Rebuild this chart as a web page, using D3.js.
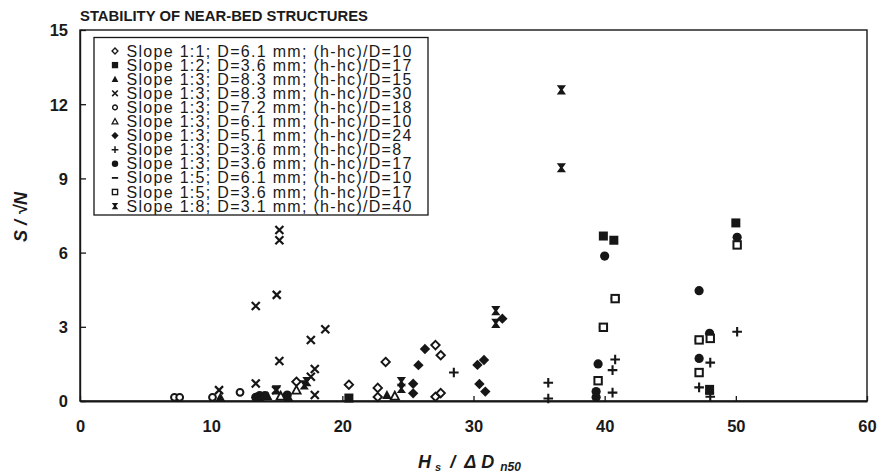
<!DOCTYPE html>
<html><head><meta charset="utf-8">
<script src="https://cdn.jsdelivr.net/npm/d3@7"></script>
<style>
body{margin:0;background:#fff;}
svg{display:block;}
text{font-family:"Liberation Sans",Arial,sans-serif;fill:#1a1a1a;}
</style></head>
<body>
<svg id="chart" width="885" height="475"></svg>
<script>
const title = "STABILITY OF NEAR-BED STRUCTURES";
const xTicks = [0,10,20,30,40,50,60];
const yTicks = [0,3,6,9,12,15];
const seriesLabels = [
 "Slope 1:1; D=6.1 mm; (h-hc)/D=10",
 "Slope 1:2; D=3.6 mm; (h-hc)/D=17",
 "Slope 1:3; D=8.3 mm; (h-hc)/D=15",
 "Slope 1:3; D=8.3 mm; (h-hc)/D=30",
 "Slope 1:3; D=7.2 mm; (h-hc)/D=18",
 "Slope 1:3; D=6.1 mm; (h-hc)/D=10",
 "Slope 1:3; D=5.1 mm; (h-hc)/D=24",
 "Slope 1:3; D=3.6 mm; (h-hc)/D=8",
 "Slope 1:3; D=3.6 mm; (h-hc)/D=17",
 "Slope 1:5; D=6.1 mm; (h-hc)/D=10",
 "Slope 1:5; D=3.6 mm; (h-hc)/D=17",
 "Slope 1:8; D=3.1 mm; (h-hc)/D=40"
];
const seriesSymbols = ["diamondOpen","squareFilled","triangleFilled","cross","circleOpen","triangleOpen","diamondFilled","plus","circleFilled","dash","squareOpen","bowtie"];

const s1x = [16.5, 20.5, 22.7, 23.3, 27.1, 27.5, 27.1, 27.5, 22.7];
const s1y = [0.78, 0.66, 0.53, 1.58, 2.26, 1.85, 0.17, 0.32, 0.16];
const s2x = [39.9, 40.7, 50.0, 48.0, 20.5];
const s2y = [6.67, 6.5, 7.2, 0.47, 0.12];
const s3x = [23.4, 13.7, 14.3, 15.9, 10.7];
const s3y = [0.24, 0.15, 0.2, 0.15, 0.15];
const s4x = [13.4, 15.2, 15.2, 15.0, 15.2, 17.6, 18.7, 17.9, 17.6, 17.9, 14.95, 13.4, 10.6];
const s4y = [3.84, 6.91, 6.5, 4.29, 1.62, 2.47, 2.9, 1.29, 0.98, 0.24, 0.44, 0.71, 0.44];
const s5x = [7.2, 7.6, 10.1, 12.2];
const s5y = [0.15, 0.15, 0.15, 0.35];
const s6x = [16.5, 15.3, 24.0];
const s6y = [0.44, 0.2, 0.2];
const s7x = [26.3, 25.8, 25.4, 25.4, 30.3, 30.8, 30.45, 30.9, 32.2];
const s7y = [2.1, 1.45, 0.7, 0.31, 1.46, 1.66, 0.69, 0.38, 3.33];
const s8x = [28.5, 35.7, 35.7, 40.8, 40.6, 40.6, 50.1, 48.05, 47.2, 48.05];
const s8y = [1.15, 0.74, 0.1, 1.68, 1.25, 0.34, 2.8, 1.55, 0.55, 0.17];
const s9x = [40.0, 39.5, 39.35, 39.35, 47.2, 47.2, 48.0, 50.1, 13.7, 14.1, 15.8, 13.4];
const s9y = [5.86, 1.5, 0.38, 0.15, 4.46, 1.72, 2.74, 6.62, 0.22, 0.22, 0.24, 0.15];
const s10x = [40.8, 39.9, 47.2, 48.0];
const s10y = [4.14, 2.98, 2.47, 0.3];
const s11x = [39.5, 50.1, 47.2, 48.05, 47.2, 40.8, 39.9];
const s11y = [0.82, 6.31, 2.47, 2.53, 1.15, 4.14, 2.98];
const s12x = [36.7, 36.7, 31.7, 31.7, 24.5, 24.5, 17.3, 17.1, 15.0];
const s12y = [12.58, 9.43, 3.65, 3.14, 0.78, 0.51, 0.78, 0.65, 0.45];

const seriesX = [s1x,s2x,s3x,s4x,s5x,s6x,s7x,s8x,s9x,s10x,s11x,s12x];
const seriesY = [s1y,s2y,s3y,s4y,s5y,s6y,s7y,s8y,s9y,s10y,s11y,s12y];

const svg = d3.select("#chart");
const L = 80, R = 867, T = 30, B = 401;
const x = d3.scaleLinear().domain([0,60]).range([L,R]);
const y = d3.scaleLinear().domain([0,15]).range([B,T]);
const ink = "#161616";

// title
svg.append("text").attr("x",80).attr("y",21).attr("font-size",15).attr("font-weight","bold")
  .attr("textLength",288).attr("lengthAdjust","spacingAndGlyphs").text(title);

// frame
svg.append("rect").attr("x",L).attr("y",T).attr("width",R-L).attr("height",B-T)
  .attr("fill","none").attr("stroke",ink).attr("stroke-width",1.4);

// axes
const xa = svg.append("g").attr("transform",`translate(0,${B})`)
  .call(d3.axisBottom(x).tickValues(xTicks).tickSizeInner(-5).tickSizeOuter(0).tickPadding(19));
const ya = svg.append("g").attr("transform",`translate(${L},0)`)
  .call(d3.axisLeft(y).tickValues(yTicks).tickSizeInner(-6).tickSizeOuter(0).tickPadding(12));
[xa,ya].forEach(a=>{
  a.selectAll("path.domain").attr("stroke",ink).attr("stroke-width",a===xa?2.2:1.4);
  a.selectAll("line").attr("stroke",ink).attr("stroke-width",1.3);
  a.selectAll("text").attr("font-size",16.5).attr("font-weight","bold").attr("fill","#222").attr("font-family","Liberation Sans, Arial, sans-serif");
});
ya.selectAll("text").attr("dy","0.36em");

// axis titles
const xt = svg.append("text").attr("x",418).attr("y",468).attr("font-size",18)
  .attr("font-weight","bold").attr("font-style","italic");
xt.append("tspan").text("H");
xt.append("tspan").attr("font-size",11).attr("dx",4).attr("dy",3).text("s");
xt.append("tspan").attr("dy",-3).attr("dx",9).text("/");
xt.append("tspan").attr("dx",9).text("Δ");
xt.append("tspan").attr("dx",5).text("D");
xt.append("tspan").attr("font-size",12).attr("dx",6).attr("dy",3).text("n50");

svg.append("text").attr("transform","translate(27,217) rotate(-90)").attr("text-anchor","middle")
  .attr("font-size",18).attr("font-weight","bold").attr("font-style","italic").text("S / √N");

// symbol drawer
function drawSym(g, type, k){
  k = k||1;
  const sw = 2*k;
  switch(type){
    case "diamondOpen":
      g.append("path").attr("d",`M0,${-4.2*k}L${4.2*k},0L0,${4.2*k}L${-4.2*k},0Z`).attr("fill","#fff").attr("stroke",ink).attr("stroke-width",1.9*k); break;
    case "diamondFilled":
      g.append("path").attr("d",`M0,${-5.2*k}L${5.2*k},0L0,${5.2*k}L${-5.2*k},0Z`).attr("fill",ink); break;
    case "squareFilled":
      g.append("rect").attr("x",-4.5*k).attr("y",-4.5*k).attr("width",9*k).attr("height",9*k).attr("fill",ink); break;
    case "squareOpen":
      g.append("rect").attr("x",-3.7*k).attr("y",-3.7*k).attr("width",7.4*k).attr("height",7.4*k).attr("fill","#fff").attr("stroke",ink).attr("stroke-width",sw); break;
    case "triangleFilled":
      g.append("path").attr("d",`M0,${-5*k}L${4.8*k},${4*k}L${-4.8*k},${4*k}Z`).attr("fill",ink); break;
    case "triangleOpen":
      g.append("path").attr("d",`M0,${-4.3*k}L${4.2*k},${3.5*k}L${-4.2*k},${3.5*k}Z`).attr("fill","#fff").attr("stroke",ink).attr("stroke-width",1.8*k); break;
    case "circleOpen":
      g.append("circle").attr("r",3.4*k).attr("fill","#fff").attr("stroke",ink).attr("stroke-width",sw); break;
    case "circleFilled":
      g.append("circle").attr("r",4.6*k).attr("fill",ink); break;
    case "cross":
      g.append("path").attr("d",`M${-4*k},${-4*k}L${4*k},${4*k}M${4*k},${-4*k}L${-4*k},${4*k}`).attr("stroke",ink).attr("stroke-width",2.2*k); break;
    case "plus":
      g.append("path").attr("d",`M${-4.8*k},0L${4.8*k},0M0,${-4.8*k}L0,${4.8*k}`).attr("stroke",ink).attr("stroke-width",2.1*k); break;
    case "dash":
      g.append("path").attr("d",`M${-4.5*k},0L${4.5*k},0`).attr("stroke",ink).attr("stroke-width",2.6*k); break;
    case "bowtie":
      g.append("path").attr("d",`M${-4.6*k},${-4.6*k}L${4.6*k},${-4.6*k}L${1.3*k},0L${4.6*k},${4.6*k}L${-4.6*k},${4.6*k}L${-1.3*k},0Z`).attr("fill",ink); break;
  }
}

// data points
const plot = svg.append("g");
seriesX.forEach((xs,si)=>{
  xs.forEach((xv,i)=>{
    const g = plot.append("g").attr("transform",`translate(${x(xv)},${y(seriesY[si][i])})`);
    drawSym(g, seriesSymbols[si], 1);
  });
});

// legend
const leg = svg.append("g");
leg.append("rect").attr("x",94).attr("y",37.5).attr("width",334).attr("height",177.5)
  .attr("fill","#fff").attr("stroke",ink).attr("stroke-width",1.3);
seriesLabels.forEach((lab,i)=>{
  const cy = 51 + i*14.1;
  const g = leg.append("g").attr("transform",`translate(115,${cy})`);
  drawSym(g, seriesSymbols[i], 0.7);
  leg.append("text").attr("x",126.5).attr("y",cy+5.5).attr("font-size",16).attr("letter-spacing","1.3px").attr("fill",ink).text(lab);
});
</script>
</body></html>
